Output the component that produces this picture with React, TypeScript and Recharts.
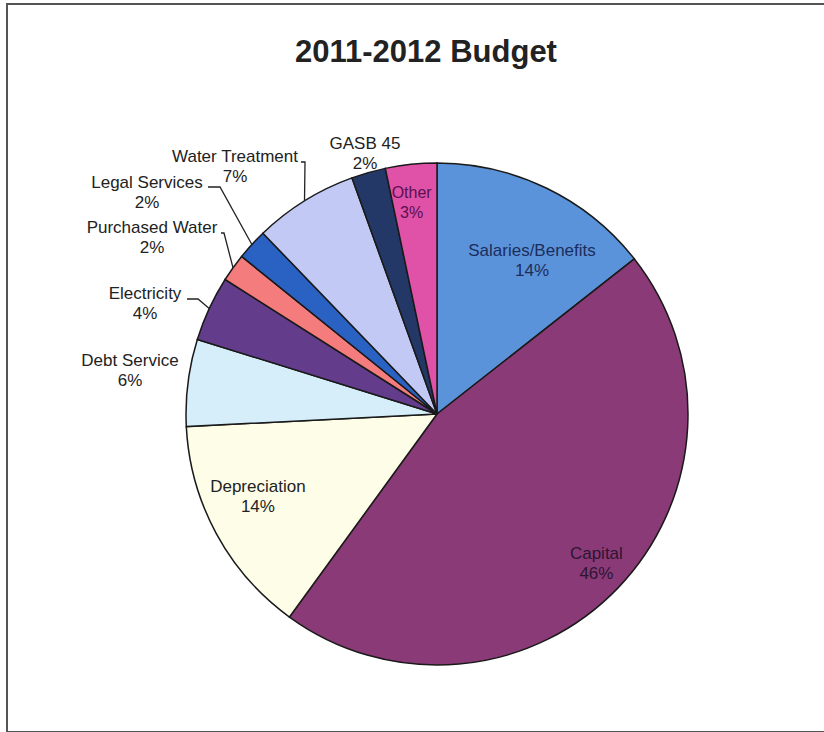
import React from 'react';
import { PieChart, Pie, Cell } from 'recharts';

// budget shares (%), clockwise from 12 o'clock
const CATEGORIES = [
    'Salaries/Benefits', 'Capital', 'Depreciation', 'Debt Service', 'Electricity',
    'Purchased Water', 'Legal Services', 'Water Treatment', 'GASB 45', 'Other',
];
const SHARES = [14.4, 45.6, 14.2, 5.6, 4.2, 1.8, 2.0, 6.7, 2.2, 3.3];

const SLICE_COLORS = [
    '#5b93da', '#8b3a78', '#fdfde8', '#d6eefa', '#633c8c',
    '#f47c7c', '#2a62c4', '#c2c9f4', '#243868', '#e052a8',
];

const FONT = "'Liberation Sans', Arial, sans-serif";
const RADIAN = Math.PI / 180;

// label placement: inside labels sit at a fraction of the radius near the slice's mid angle
// (shift = clockwise nudge in degrees), outside labels sit beside the pie with an
// optional elbowed leader line to the arc
type LabelSpec =
    | { kind: 'inside'; r: number; shift: number; color: string }
    | { kind: 'outside'; x: number; y: number; elbow?: [number, number][] };

const LABEL_LAYOUT: Record<string, LabelSpec> = {
    'Salaries/Benefits': { kind: 'inside', r: 0.72, shift: 5.8, color: '#1b2d5c' },
    'Capital': { kind: 'inside', r: 0.87, shift: -0.8, color: '#2c1530' },
    'Depreciation': { kind: 'inside', r: 0.785, shift: 3.8, color: '#222' },
    'Other': { kind: 'inside', r: 0.847, shift: -0.9, color: '#5a1050' },
    'GASB 45': { kind: 'outside', x: 365, y: 153 },
    'Water Treatment': { kind: 'outside', x: 235, y: 166, elbow: [[301, 162], [305, 162]] },
    'Legal Services': { kind: 'outside', x: 147, y: 192, elbow: [[208, 187], [220, 187]] },
    'Purchased Water': { kind: 'outside', x: 152, y: 237, elbow: [[221, 233], [224, 233]] },
    'Electricity': { kind: 'outside', x: 145, y: 303, elbow: [[187, 299], [198, 299]] },
    'Debt Service': { kind: 'outside', x: 130, y: 370 },
};

const data = CATEGORIES.map((name, i) => ({ name, value: SHARES[i] }));

const renderLabel = (props: any) => {
    const { cx, cy, midAngle, outerRadius, index } = props;
    const name = CATEGORIES[index];
    const pct = `${Math.round(SHARES[index])}%`;
    const spec = LABEL_LAYOUT[name];
    if (!spec) return null;

    let x: number;
    let y: number;
    let color = '#222';
    let size = 17;
    let leader: React.ReactNode = null;

    if (spec.kind === 'inside') {
        const a = midAngle - spec.shift;
        x = cx + Math.cos(-a * RADIAN) * outerRadius * spec.r;
        y = cy + Math.sin(-a * RADIAN) * outerRadius * spec.r;
        color = spec.color;
        if (name === 'Other') size = 16;
    } else {
        // chart sits 5px in from the page corner, outside coords are page coords
        x = spec.x - 5;
        y = spec.y - 5;
        if (spec.elbow) {
            const ex = cx + Math.cos(-midAngle * RADIAN) * outerRadius;
            const ey = cy + Math.sin(-midAngle * RADIAN) * outerRadius;
            const pts = [...spec.elbow.map(([px, py]) => [px - 5, py - 5]), [ex, ey]]
                .map((p) => p.join(',')).join(' ');
            leader = <polyline points={pts} fill="none" stroke="#222" strokeWidth={1.3} />;
        }
    }

    return (
        <g key={`lbl-${index}`}>
            {leader}
            <text x={x} y={y - 10} textAnchor="middle" dominantBaseline="central"
                fill={color} fontSize={size} fontFamily={FONT}>{name}</text>
            <text x={x} y={y + 10} textAnchor="middle" dominantBaseline="central"
                fill={color} fontSize={size} fontFamily={FONT}>{pct}</text>
        </g>
    );
};

export default function App() {
    return (
        <div style={{ position: 'absolute', left: 0, top: 0, width: 824, height: 732, background: '#fff', overflow: 'hidden' }}>
            <div style={{
                position: 'absolute', left: 6, top: 3, right: -4, height: 726,
                borderTop: '2px solid #555', borderLeft: '2px solid #555', borderBottom: '2px solid #555',
            }} />
            <div style={{
                position: 'absolute', left: 0, top: 36, width: 852, textAlign: 'center',
                fontFamily: FONT, fontWeight: 'bold', fontSize: 31, lineHeight: '31px', color: '#222',
            }}>
                2011-2012 Budget
            </div>
            <div style={{ position: 'absolute', left: 5, top: 5 }}>
                <PieChart width={814} height={722} margin={{ top: 0, right: 0, bottom: 0, left: 0 }}>
                    <Pie
                        data={data}
                        dataKey="value"
                        nameKey="name"
                        cx={432}
                        cy={409}
                        outerRadius={251}
                        startAngle={90}
                        endAngle={-270}
                        stroke="#1a1a1a"
                        strokeWidth={1.5}
                        label={renderLabel}
                        labelLine={false}
                        isAnimationActive={false}
                    >
                        {data.map((_, i) => (
                            <Cell key={i} fill={SLICE_COLORS[i]} />
                        ))}
                    </Pie>
                </PieChart>
            </div>
        </div>
    );
}
